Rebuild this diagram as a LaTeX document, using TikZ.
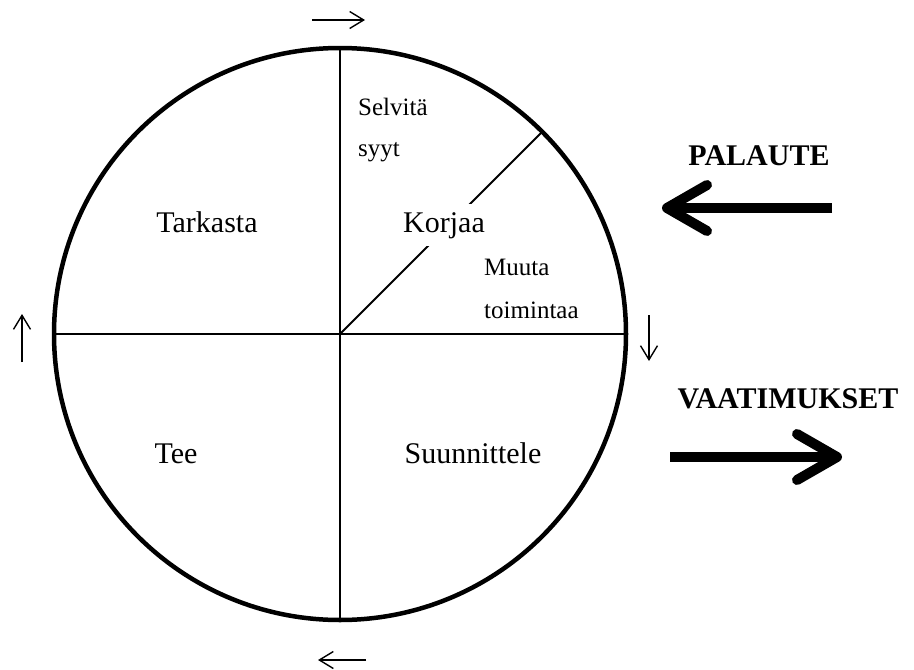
\documentclass[tikz,border=0pt]{standalone}
\usepackage{fontspec}
\setmainfont{Liberation Serif}
\usetikzlibrary{arrows.meta, positioning}

\begin{document}
\begin{tikzpicture}[
  x=1pt, y=-1pt,
  sector/.style={font=\fontsize{30}{36}\selectfont, inner sep=0pt},
  note/.style={font=\fontsize{25}{30}\selectfont, inner sep=0pt},
  heading/.style={font=\fontsize{30}{36}\selectfont\bfseries, inner sep=0pt},
  rim/.style={draw, circle, line width=4.5pt, inner sep=0pt, outer sep=0pt},
  split/.style={line width=1.8pt},
  cyclearrow/.style={line width=1.4pt, -{Straight Barb[length=14pt, width=17pt]}},
  bigarrow/.style={line width=10pt, -{Straight Barb[length=40pt, width=46pt, round]}}
]
  \useasboundingbox (0,0) rectangle (914,670);

  % the wheel and its quarters
  \node[rim, minimum size=572pt] (wheel) at (340,334) {};
  \draw[split] (wheel.north) -- (wheel.south);
  \draw[split] (wheel.west)  -- (wheel.east);
  \draw[split] (wheel.center) -- (wheel.45);

  % quarter labels
  \node[sector, anchor=base]                          (tarkasta) at (207,232) {Tarkasta};
  \node[sector, anchor=base, fill=white, inner sep=8pt] (korjaa) at (444,232) {Korjaa};
  \node[sector, anchor=base]                          (tee)      at (176,463) {Tee};
  \node[sector, anchor=base]                          (suunn)    at (473,463) {Suunnittele};
  \node[note, anchor=base west] (selvita) at (358,115) {Selvitä};
  \node[note, anchor=base west] (syyt)    at (358,156) {syyt};
  \node[note, anchor=base west] (muuta)   at (484,275) {Muuta};
  \node[note, anchor=base west] (toim)    at (484,318) {toimintaa};

  % direction of the cycle
  \coordinate (topA) at (312,20);  \coordinate (topB) at (365,20);
  \coordinate (rgtA) at (649,315); \coordinate (rgtB) at (649,361);
  \coordinate (botA) at (366,660); \coordinate (botB) at (318,660);
  \coordinate (lftA) at (22,362);  \coordinate (lftB) at (22,314);
  \draw[cyclearrow] (topA) -- (topB);
  \draw[cyclearrow] (rgtA) -- (rgtB);
  \draw[cyclearrow] (botA) -- (botB);
  \draw[cyclearrow] (lftA) -- (lftB);

  % feedback in, requirements out
  \node[heading, anchor=base] (palaute) at (759,165) {PALAUTE};
  \node[heading, anchor=base] (vaatim)  at (788,408) {VAATIMUKSET};
  \coordinate (palA) at (832,208); \coordinate (palB) at (662,208);
  \coordinate (vaaA) at (670,457); \coordinate (vaaB) at (842,457);
  \draw[bigarrow] (palA) -- (palB);
  \draw[bigarrow] (vaaA) -- (vaaB);
\end{tikzpicture}
\end{document}
